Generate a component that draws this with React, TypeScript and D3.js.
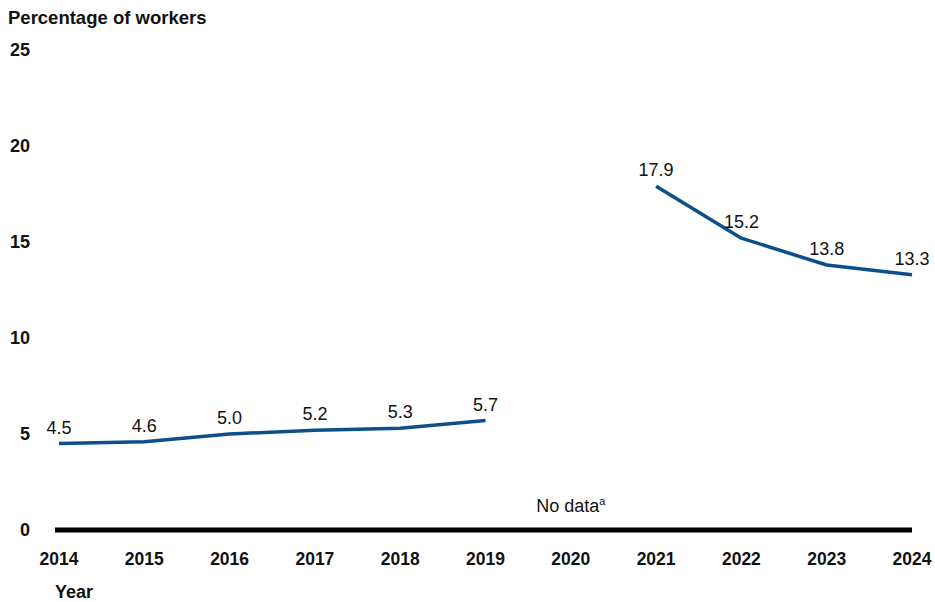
import React from "react";
import * as d3 from "d3";

const years = [2014, 2015, 2016, 2017, 2018, 2019, 2020, 2021, 2022, 2023, 2024];
const seriesA = [
  { year: 2014, value: 4.5 },
  { year: 2015, value: 4.6 },
  { year: 2016, value: 5.0 },
  { year: 2017, value: 5.2 },
  { year: 2018, value: 5.3 },
  { year: 2019, value: 5.7 },
];
const seriesB = [
  { year: 2021, value: 17.9 },
  { year: 2022, value: 15.2 },
  { year: 2023, value: 13.8 },
  { year: 2024, value: 13.3 },
];
const yTicks = [0, 5, 10, 15, 20, 25];
const noDataYear = 2020;

const W = 935;
const H = 602;
const FONT = "'Liberation Sans', Arial, sans-serif";
const BLUE = "#0d4f8b";

export default function App() {
  const x = d3.scaleLinear().domain([2014, 2024]).range([59, 912]);
  const y = d3.scaleLinear().domain([0, 25]).range([530, 50]);
  const line = d3
    .line<{ year: number; value: number }>()
    .x((d) => x(d.year))
    .y((d) => y(d.value))
    .curve(d3.curveLinear);

  const all = [...seriesA, ...seriesB];

  return (
    <svg
      width={W}
      height={H}
      style={{ position: "absolute", left: 0, top: 0, fontFamily: FONT }}
    >
      <rect width={W} height={H} fill="#fff" />
      <text x={8} y={24} fontSize={18.5} fontWeight="bold" fill="#111">
        Percentage of workers
      </text>
      {yTicks.map((t) => (
        <text
          key={t}
          x={30}
          y={y(t)}
          dy="0.36em"
          textAnchor="end"
          fontSize={18}
          fontWeight="bold"
          fill="#111"
        >
          {t}
        </text>
      ))}
      <line
        x1={x(2014) - 4}
        x2={x(2024)}
        y1={y(0)}
        y2={y(0)}
        stroke="#000"
        strokeWidth={5}
      />
      {years.map((yr) => (
        <text
          key={yr}
          x={x(yr)}
          y={565}
          textAnchor="middle"
          fontSize={17.5}
          fontWeight="bold"
          fill="#111"
        >
          {yr}
        </text>
      ))}
      <text x={55} y={598} fontSize={18} fontWeight="bold" fill="#111">
        Year
      </text>
      <text x={x(noDataYear)} y={512} textAnchor="middle" fontSize={18} fill="#111">
        No data
        <tspan fontSize={11} dy={-7}>
          a
        </tspan>
      </text>
      <path
        d={line(seriesA) || ""}
        fill="none"
        stroke={BLUE}
        strokeWidth={3.5}
        strokeLinejoin="round"
      />
      <path
        d={line(seriesB) || ""}
        fill="none"
        stroke={BLUE}
        strokeWidth={3.5}
        strokeLinejoin="round"
      />
      {all.map((d) => (
        <text
          key={d.year}
          x={x(d.year)}
          y={y(d.value) - 10}
          textAnchor="middle"
          fontSize={18}
          fill="#111"
        >
          {d.value.toFixed(1)}
        </text>
      ))}
    </svg>
  );
}
